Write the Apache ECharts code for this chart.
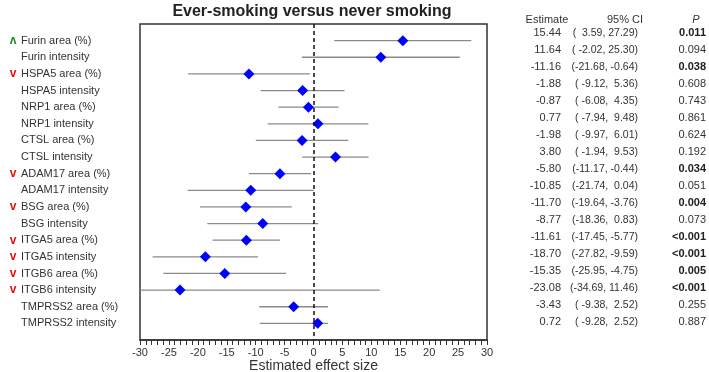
<!DOCTYPE html>
<html>
<head>
<meta charset="utf-8">
<script src="https://cdn.jsdelivr.net/npm/echarts@6/dist/echarts.min.js"></script>
<style>
html,body{margin:0;padding:0;background:#fff;}
#chart{width:709px;height:372px;}
</style>
</head>
<body>
<div id="chart"></div>
<script>
// markers / outcomes (top to bottom)
const names = ['Furin area (%)','Furin intensity','HSPA5 area (%)','HSPA5 intensity','NRP1 area (%)','NRP1 intensity',
	'CTSL area (%)','CTSL intensity','ADAM17 area (%)','ADAM17 intensity','BSG area (%)','BSG intensity',
	'ITGA5 area (%)','ITGA5 intensity','ITGB6 area (%)','ITGB6 intensity','TMPRSS2 area (%)','TMPRSS2 intensity'];
const arrows = ['up','','down','','','','','','down','','down','','down','down','down','down','',''];
const estimates = [15.44,11.64,-11.16,-1.88,-0.87,0.77,-1.98,3.80,-5.80,-10.85,-11.70,-8.77,-11.61,-18.70,-15.35,-23.08,-3.43,0.72];
const lowers = [3.59,-2.02,-21.68,-9.12,-6.08,-7.94,-9.97,-1.94,-11.17,-21.74,-19.64,-18.36,-17.45,-27.82,-25.95,-34.69,-9.38,-9.28];
const uppers = [27.29,25.30,-0.64,5.36,4.35,9.48,6.01,9.53,-0.44,0.04,-3.76,0.83,-5.77,-9.59,-4.75,11.46,2.52,2.52];
const pvalues = ['0.011','0.094','0.038','0.608','0.743','0.861','0.624','0.192','0.034','0.051','0.004','0.073','<0.001','<0.001','0.005','<0.001','0.255','0.887'];
const xTicks = [-30,30,5];

const font = 'Liberation Sans, Arial, sans-serif';
const txt = '#333';
const rowCount = names.length;

function pad(v){
	let s = v.toFixed(2);
	while(s.length<6) s = ' '+s;
	return s;
}
function rowOf(v){
	let i = Math.round(v)-1;
	return (i>=0 && i<rowCount) ? i : -1;
}
function isSig(p){
	return p.charAt(0)=='<' || parseFloat(p)<0.05;
}

const barData = names.map((n,i)=>[lowers[i],uppers[i],i+1]);
const pointData = names.map((n,i)=>[estimates[i],i+1]);

const rowAxis = {min:0,max:rowCount+1,interval:1,inverse:true,type:'value',
	axisLine:{show:false},axisTick:{show:false},splitLine:{show:false}};
const headStyle = {fontFamily:font,fontSize:11,fontWeight:'normal',color:txt};

let chart = echarts.init(document.getElementById('chart'));
let option = {
	backgroundColor:'#fff',
	animation:false,
	title:[
		{text:'Ever-smoking versus never smoking',left:312,top:4,padding:0,textAlign:'center',
			textStyle:{fontFamily:font,fontSize:16,fontWeight:'bold',color:'#222'}},
		{text:'Estimate',left:547,top:14,padding:0,textAlign:'center',textStyle:headStyle},
		{text:'95% CI',left:625,top:14,padding:0,textAlign:'center',textStyle:headStyle},
		{text:'P',left:696,top:14,padding:0,textAlign:'center',textStyle:Object.assign({},headStyle,{fontStyle:'italic'})}
	],
	grid:[
		{left:140,right:222,top:24,bottom:32,outerBoundsMode:'none',containLabel:false,
			show:true,borderColor:'#333',borderWidth:1.5,backgroundColor:'transparent'},
		{left:490,right:3,top:16,bottom:33,outerBoundsMode:'none',containLabel:false}
	],
	xAxis:[
		{type:'value',gridIndex:0,position:'bottom',min:xTicks[0],max:xTicks[1],interval:xTicks[2],
			axisLine:{show:true,onZero:false,lineStyle:{color:'#333',width:1.5}},
			axisTick:{show:true,length:5,lineStyle:{color:'#333'}},
			minorTick:{show:true,splitNumber:5,length:5,lineStyle:{color:'#333'}},
			splitLine:{show:false},
			axisLabel:{fontFamily:font,fontSize:11,color:txt,margin:7},
			name:'Estimated effect size',nameLocation:'middle',nameGap:19,nameMoveOverlap:false,
			nameTextStyle:{fontFamily:font,fontSize:14,color:txt,verticalAlign:'top'}},
		{type:'value',gridIndex:1,min:0,max:1,show:false}
	],
	yAxis:[
		// outcome names
		Object.assign({},rowAxis,{gridIndex:0,position:'left',
			axisLabel:{margin:119,align:'left',fontFamily:font,fontSize:11,color:txt,
				formatter:(v)=>{let i=rowOf(v);return i<0?'':names[i];}}}),
		// direction arrows
		Object.assign({},rowAxis,{gridIndex:0,position:'left',
			axisLabel:{margin:127,align:'center',
				formatter:(v)=>{
					let i=rowOf(v);
					if(i<0) return '';
					return arrows[i]=='up' ? '{up|ʌ}' : (arrows[i]=='down' ? '{dn|v}' : '');
				},
				rich:{
					up:{fontFamily:font,fontSize:12,fontWeight:'bold',color:'#1e8a1e'},
					dn:{fontFamily:font,fontSize:12,fontWeight:'bold',color:'#e01010'}
				}}}),
		// estimate column
		Object.assign({},rowAxis,{gridIndex:1,position:'left',
			axisLabel:{margin:-71,align:'right',fontFamily:font,fontSize:11,color:txt,
				formatter:(v)=>{let i=rowOf(v);return i<0?'':estimates[i].toFixed(2);}}}),
		// CI column
		Object.assign({},rowAxis,{gridIndex:1,position:'left',
			axisLabel:{margin:-148,align:'right',fontFamily:font,fontSize:10.5,color:txt,
				formatter:(v)=>{let i=rowOf(v);return i<0?'':'('+pad(lowers[i])+','+pad(uppers[i])+')';}}}),
		// P column
		Object.assign({},rowAxis,{gridIndex:1,position:'right',
			axisLabel:{margin:0,align:'right',fontFamily:font,fontSize:11,color:txt,
				formatter:(v)=>{
					let i=rowOf(v);
					if(i<0) return '';
					return isSig(pvalues[i]) ? '{b|'+pvalues[i]+'}' : pvalues[i];
				},
				rich:{b:{fontFamily:font,fontSize:11,fontWeight:'bold',color:'#222'}}}})
	],
	series:[
		{
			type:'custom',
			xAxisIndex:0,yAxisIndex:0,
			clip:true,
			data:barData,
			encode:{x:[0,1],y:2},
			renderItem:(params,api)=>{
				let y=api.value(2);
				let p1=api.coord([api.value(0),y]);
				let p2=api.coord([api.value(1),y]);
				let cs=params.coordSys;
				let x1=Math.max(p1[0],cs.x), x2=Math.min(p2[0],cs.x+cs.width);
				return {type:'line',shape:{x1:x1,y1:p1[1],x2:x2,y2:p2[1]},
					style:{stroke:'#8a8a8a',lineWidth:1.3}};
			},
			z:2
		},
		{
			type:'scatter',
			xAxisIndex:0,yAxisIndex:0,
			data:pointData,
			symbol:'diamond',
			symbolSize:[11,11],
			itemStyle:{color:'#0000ff',opacity:1},
			z:4,
			markLine:{
				silent:true,symbol:'none',
				label:{show:false},
				lineStyle:{color:'#111',type:[4,3],width:1.5},
				data:[{xAxis:0}]
			}
		}
	]
};
chart.setOption(option);
</script>
</body>
</html>
